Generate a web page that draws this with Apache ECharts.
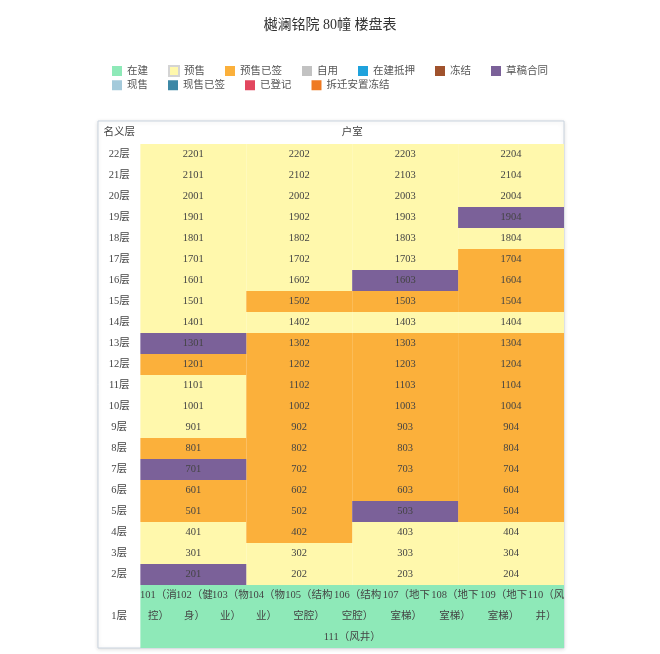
<!DOCTYPE html>
<html>
<head>
<meta charset="utf-8">
<title>楼盘表</title>
<script src="https://cdn.jsdelivr.net/npm/echarts@6/dist/echarts.min.js"></script>
<style>
  html, body { margin: 0; padding: 0; background: #fff; }
  #main { width: 660px; height: 654px; }
</style>
</head>
<body>
<div id="main"></div>
<script>
var titleText = '樾澜铭院 80幢 楼盘表';

// 状态 + 颜色
var statusNames = ['在建', '预售', '预售已签', '自用', '在建抵押', '冻结', '草稿合同',
                   '现售', '现售已签', '已登记', '拆迁安置冻结'];
var statusColors = ['#8ee9b8', '#fff8ac', '#fbb03b', '#c2c2c2', '#1fa2dc', '#a0522d', '#7b6199',
                    '#a4cadb', '#3d88a6', '#e2475f', '#ef7a22'];

var headerLabels = ['名义层', '户室'];

// 22层 -> 2层
var floorLabels = ['22层', '21层', '20层', '19层', '18层', '17层', '16层', '15层', '14层', '13层', '12层',
                   '11层', '10层', '9层', '8层', '7层', '6层', '5层', '4层', '3层', '2层'];
var roomRows = [
  ['2201', '2202', '2203', '2204'],
  ['2101', '2102', '2103', '2104'],
  ['2001', '2002', '2003', '2004'],
  ['1901', '1902', '1903', '1904'],
  ['1801', '1802', '1803', '1804'],
  ['1701', '1702', '1703', '1704'],
  ['1601', '1602', '1603', '1604'],
  ['1501', '1502', '1503', '1504'],
  ['1401', '1402', '1403', '1404'],
  ['1301', '1302', '1303', '1304'],
  ['1201', '1202', '1203', '1204'],
  ['1101', '1102', '1103', '1104'],
  ['1001', '1002', '1003', '1004'],
  ['901', '902', '903', '904'],
  ['801', '802', '803', '804'],
  ['701', '702', '703', '704'],
  ['601', '602', '603', '604'],
  ['501', '502', '503', '504'],
  ['401', '402', '403', '404'],
  ['301', '302', '303', '304'],
  ['201', '202', '203', '204']
];
var Y = '预售', O = '预售已签', P = '草稿合同';
var statusRows = [
  [Y, Y, Y, Y],
  [Y, Y, Y, Y],
  [Y, Y, Y, Y],
  [Y, Y, Y, P],
  [Y, Y, Y, Y],
  [Y, Y, Y, O],
  [Y, Y, P, O],
  [Y, O, O, O],
  [Y, Y, Y, Y],
  [P, O, O, O],
  [O, O, O, O],
  [Y, O, O, O],
  [Y, O, O, O],
  [Y, O, O, O],
  [O, O, O, O],
  [P, O, O, O],
  [O, O, O, O],
  [O, O, P, O],
  [Y, O, Y, Y],
  [Y, Y, Y, Y],
  [P, Y, Y, Y]
];

// 1层
var groundLabel = '1层';
var groundStatus = '在建';
var groundRooms = ['101（消控）', '102（健身）', '103（物业）', '104（物业）', '105（结构空腔）',
                   '106（结构空腔）', '107（地下室梯）', '108（地下室梯）', '109（地下室梯）',
                   '110（风井）', '111（风井）'];

var FONT = '"Liberation Serif", "Noto Sans CJK SC", serif';
var COLS = 4;
var GROUND_H = 3;          // 1层占三行高
var HEADER_H = 1.1;
var TOP = GROUND_H + floorLabels.length;   // 24

// 按状态分组单元格
var cells = {};
statusNames.forEach(function (s) { cells[s] = []; });
statusRows.forEach(function (row, r) {
  row.forEach(function (s, c) {
    cells[s].push({ value: [c, TOP - 1 - r, 1, 1], name: roomRows[r][c] });
  });
});
cells[groundStatus].push({ value: [0, 0, COLS, GROUND_H], name: '' });

function makeCellRender(list) {
  return function (params, api) {
    var x0 = api.value(0), y0 = api.value(1), w = api.value(2), h = api.value(3);
    var p1 = api.coord([x0, y0 + h]);
    var p2 = api.coord([x0 + w, y0]);
    var label = list[params.dataIndex].name;
    return {
      type: 'group',
      children: [{
        type: 'rect',
        shape: { x: p1[0], y: p1[1], width: p2[0] - p1[0], height: p2[1] - p1[1] },
        style: { fill: api.visual('color') }
      }, {
        type: 'text',
        style: {
          x: (p1[0] + p2[0]) / 2, y: (p1[1] + p2[1]) / 2,
          text: label, align: 'center', verticalAlign: 'middle',
          fill: '#444', font: '10.5px ' + FONT
        }
      }]
    };
  };
}

var series = statusNames.map(function (s, i) {
  var list = cells[s];
  return {
    name: s,
    type: 'custom',
    coordinateSystem: 'cartesian2d',
    itemStyle: s === '预售' ? { color: statusColors[i], borderColor: '#d4d4d4', borderWidth: 1 } : { color: statusColors[i] },
    data: list,
    renderItem: makeCellRender(list),
    silent: true,
    z: 2
  };
});

// 楼层标签 + 表头
var floorData = floorLabels.map(function (f, r) { return { value: [-0.2, TOP - 0.5 - r], name: f }; });
floorData.push({ value: [-0.2, GROUND_H / 2], name: groundLabel });
floorData.push({ value: [-0.2, TOP + HEADER_H / 2], name: headerLabels[0] });
floorData.push({ value: [COLS / 2, TOP + HEADER_H / 2], name: headerLabels[1] });

series.push({
  type: 'custom',
  silent: true,
  z: 3,
  data: floorData,
  renderItem: function (params, api) {
    var p = api.coord([api.value(0), api.value(1)]);
    return {
      type: 'text',
      style: {
        x: p[0], y: p[1], text: floorData[params.dataIndex].name,
        align: 'center', verticalAlign: 'middle', fill: '#444', font: '10.5px ' + FONT
      }
    };
  }
});

// 1层房间文字：前10个排一行（长名字占得宽一点），第11个换到第三行居中
var perLine = 10;
var weights = groundRooms.slice(0, perLine).map(function (n) { return 1 + 0.175 * (n.length - 7); });
var totalW = weights.reduce(function (a, b) { return a + b; }, 0);
var acc = 0;
var groundData = groundRooms.map(function (name, i) {
  if (i < perLine) {
    var cx = (acc + weights[i] / 2) / totalW * COLS;
    acc += weights[i];
    return { value: [cx, GROUND_H - 1], name: name, wrap: name.length > 7 ? 56 : 44 };
  }
  return { value: [COLS / 2, 0.5], name: name, wrap: 200 };
});
series.push({
  type: 'custom',
  silent: true,
  z: 3,
  data: groundData,
  renderItem: function (params, api) {
    var p = api.coord([api.value(0), api.value(1)]);
    var d = groundData[params.dataIndex];
    return {
      type: 'text',
      style: {
        x: p[0], y: p[1], text: d.name,
        width: d.wrap, overflow: 'break', lineHeight: 21,
        align: 'center', verticalAlign: 'middle', fill: '#444', font: '10.5px ' + FONT
      }
    };
  }
});

var legendText = { fontSize: 10.5, color: '#555', fontFamily: FONT };
var option = {
  backgroundColor: '#fff',
  animation: false,
  title: {
    text: titleText,
    left: 'center',
    top: 13,
    textStyle: { fontSize: 14, fontWeight: 'normal', color: '#333', fontFamily: FONT }
  },
  legend: [{
    data: statusNames.slice(0, 7),
    left: 107, top: 60,
    icon: 'rect', itemWidth: 10, itemHeight: 10, itemGap: 20,
    textStyle: legendText
  }, {
    data: statusNames.slice(7),
    left: 107, top: 75,
    icon: 'rect', itemWidth: 10, itemHeight: 10, itemGap: 20,
    textStyle: legendText
  }],
  grid: {
    left: 98, right: 96, top: 121, bottom: 6,
    show: true,
    backgroundColor: '#fff',
    borderColor: '#c9d3de',
    borderWidth: 1,
    shadowColor: 'rgba(0,0,0,0.12)',
    shadowBlur: 4,
    shadowOffsetY: 1
  },
  xAxis: { type: 'value', min: -0.4, max: COLS, show: false },
  yAxis: { type: 'value', min: 0, max: TOP + HEADER_H, show: false },
  series: series
};

var chart = echarts.init(document.getElementById('main'));
chart.setOption(option);
</script>
</body>
</html>
